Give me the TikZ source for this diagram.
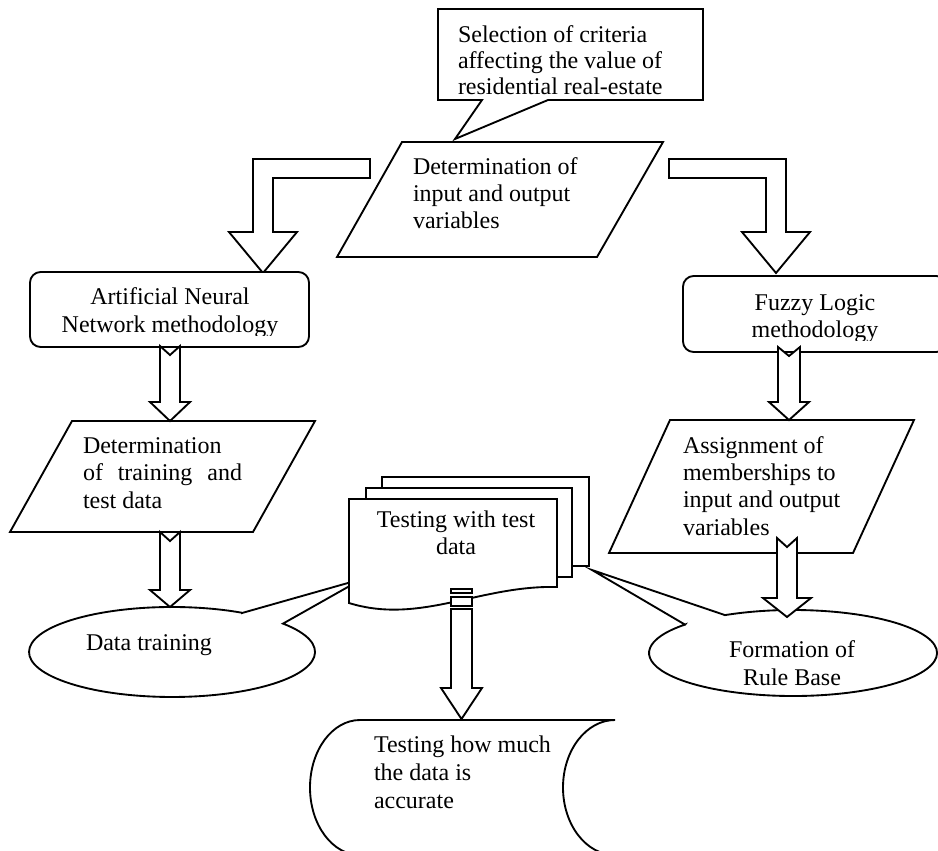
\documentclass[tikz,border=0pt]{standalone}
\usepackage{fontspec}
\setmainfont{Liberation Serif}
\newcommand\notchdown[6]{%
  \draw[blk] ({#1-#5},#2) -- (#1,{#2+9}) -- ({#1+#5},#2) -- ({#1+#5},#3) -- ({#1+#6},#3) -- (#1,#4) -- ({#1-#6},#3) -- ({#1-#5},#3) -- cycle;}
\begin{document}
\begin{tikzpicture}[x=0.75pt,y=-0.75pt,
  shp/.style={draw=black,line width=1.4pt,fill=white,line join=miter},
  blk/.style={draw=black,line width=1.4pt,fill=white,line join=miter},
  txt/.style={font=\fontsize{18}{20.25}\selectfont,inner sep=0pt,outer sep=0pt}]
\useasboundingbox[fill=white] (0,0) rectangle (938,850);
\clip (0,0) rectangle (938,850);

% callout: selection of criteria
\draw[shp] (438,9) -- (703,9) -- (703,100) -- (548,100) -- (455,139) -- (482,100) -- (438,100) -- cycle;
% parallelogram: input/output
\draw[shp] (402,142) -- (663,142) -- (597,257) -- (337,257) -- cycle;
% elbow arrows
\draw[blk] (370,159) -- (253,159) -- (253,232) -- (229,232) -- (263,273) -- (297,232) -- (273,232) -- (273,178) -- (370,178) -- cycle;
\draw[blk] (669,159) -- (786,159) -- (786,232) -- (810,232) -- (776,273) -- (742,232) -- (766,232) -- (766,178) -- (669,178) -- cycle;
% rounded boxes
\draw[shp,rounded corners=8] (30,272) rectangle (309,347);
\draw[shp,rounded corners=8] (683,276) rectangle (947,352);
% parallelograms
\draw[shp] (72,421) -- (315,421) -- (253,532) -- (10,532) -- cycle;
\draw[shp] (670,420) -- (914,420) -- (853,553) -- (609,553) -- cycle;
% ellipse callouts
\draw[shp] (242,613) -- (362,579) -- (283,623.6) arc[start angle=-39.1,end angle=299.3,x radius=143,y radius=45] -- cycle;
\draw[shp] (685,624.6) -- (592,570) -- (725,615.1) arc[start angle=-118.2,end angle=221.4,x radius=144,y radius=43] -- cycle;
% multidocument
\draw[shp] (382,477) rectangle (589,566);
\draw[shp] (366,488) rectangle (572,577);
\draw[shp] (349,499) -- (557,499) -- (557,587) .. controls (480,585) and (420,625) .. (349,603) -- cycle;
% stored data shape
\draw[shp] (360,720) -- (615,720) arc[start angle=-90,end angle=-270,x radius=52,y radius=67.5] -- (360,855) arc[start angle=90,end angle=270,x radius=50,y radius=67.5] -- cycle;
% block arrows
\notchdown{170}{346}{402}{421}{10}{20}
\notchdown{170}{532}{590}{607}{10}{20}
\notchdown{789}{347}{402}{420}{11}{20}
\notchdown{787}{538}{598}{617}{10}{24}
\draw[blk] (451,589) rectangle (472,593);
\draw[blk] (451,597) rectangle (472,606);
\draw[blk] (451,609) -- (472,609) -- (472,688) -- (482,688) -- (461.5,719) -- (441,688) -- (451,688) -- cycle;

% texts (anchor = baseline of the last line)
\begin{scope}
\clip (438,9) rectangle (703,96);
\node[txt,font=\fontsize{18}{19.5}\selectfont,align=left,anchor=base west] (sel) at (458,94) {Selection of criteria\\affecting the value of\\residential real-estate};
\end{scope}
\node[txt,align=left,anchor=base west] (io) at (413,228) {Determination of\\input and output\\variables};
\begin{scope}
\clip (30,272) rectangle (309,335);
\node[txt,font=\fontsize{18}{21}\selectfont,align=center,anchor=base] (ann) at (170,332) {Artificial Neural\\Network methodology};
\end{scope}
\begin{scope}
\clip (683,276) rectangle (938,340);
\node[txt,align=center,anchor=base] (fl) at (815,337) {Fuzzy Logic\\methodology};
\end{scope}
\node[txt,font=\fontsize{18}{20.6}\selectfont,align=left,anchor=base west] (tt) at (83,508) {Determination\\\hbox to 119.25pt{of\hfil training\hfil and}\\test data};
\node[txt,font=\fontsize{18}{20.5}\selectfont,align=left,anchor=base west] (asg) at (683,535) {Assignment of\\memberships to\\input and output\\variables};
\node[txt,align=center,anchor=base] (twt) at (456,554) {Testing with test\\data};
\node[txt,anchor=base west] (dt) at (86,650) {Data training};
\node[txt,font=\fontsize{18}{21}\selectfont,align=center,anchor=base] (frb) at (792,685) {Formation of\\Rule Base};
\node[txt,font=\fontsize{18}{21}\selectfont,align=left,anchor=base west] (acc) at (374,808) {Testing how much\\the data is\\accurate};
\end{tikzpicture}
\end{document}
